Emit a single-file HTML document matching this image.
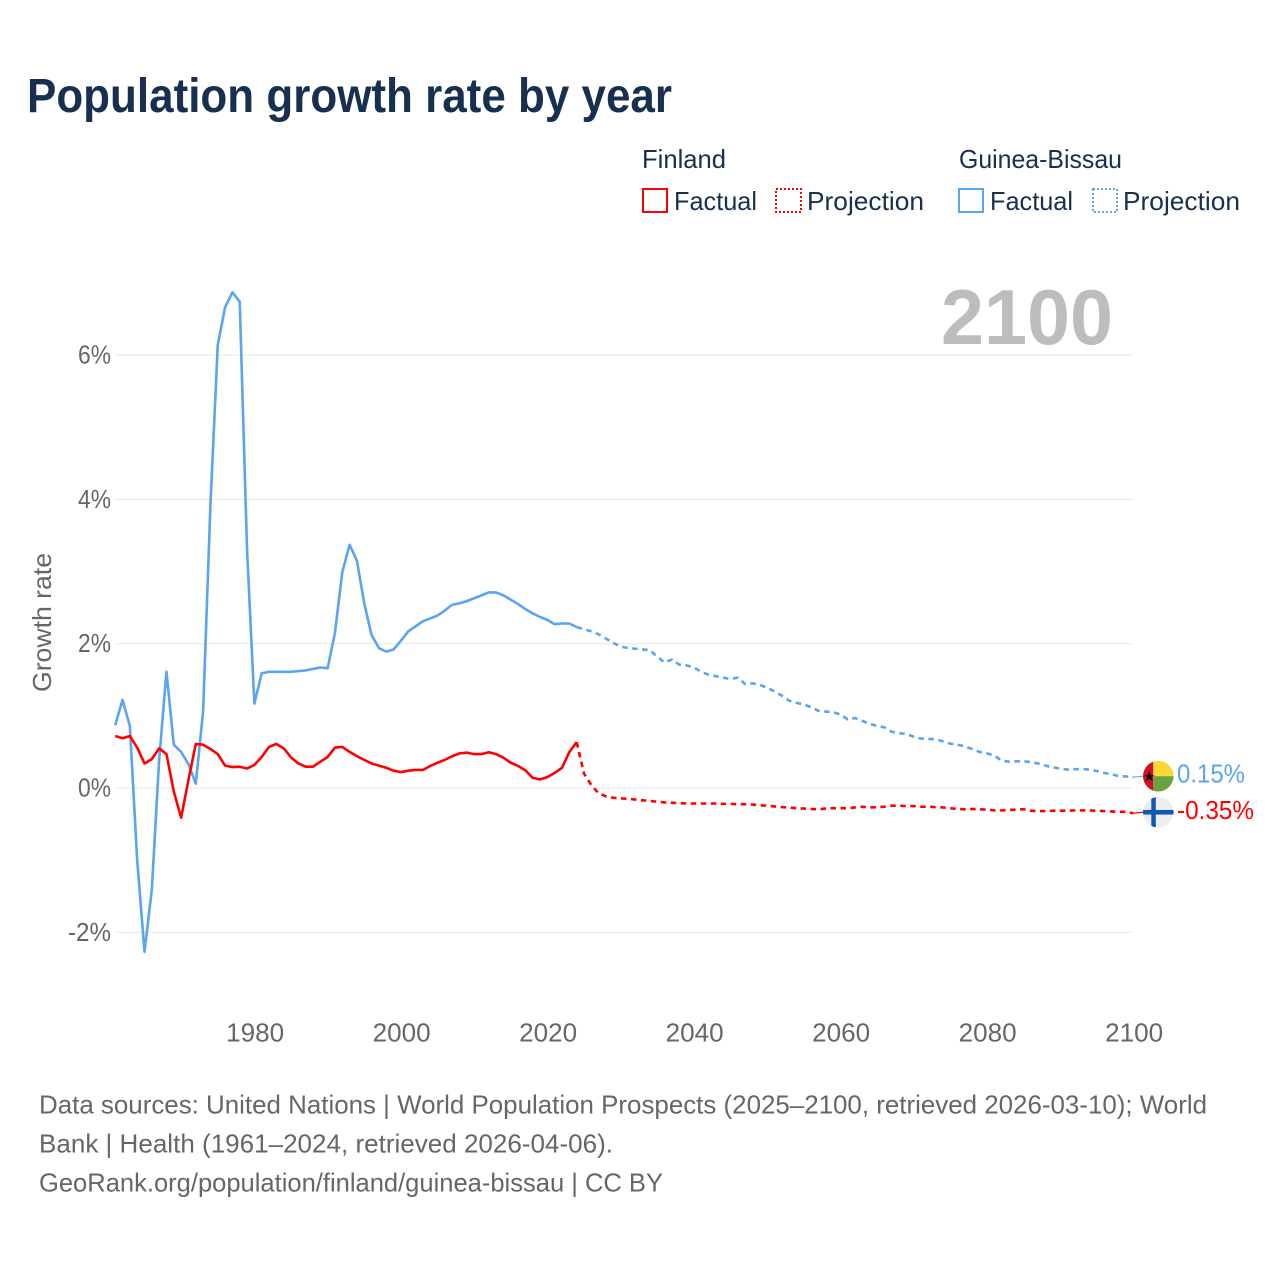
<!DOCTYPE html>
<html lang="en">
<head>
<meta charset="utf-8">
<title>Population growth rate by year</title>
<style>
html,body{margin:0;padding:0;background:#fff;}
svg{display:block;font-family:"Liberation Sans",Arial,sans-serif;}
</style>
</head>
<body>
<svg id="chart" xmlns="http://www.w3.org/2000/svg" width="1280" height="1280" viewBox="0 0 1280 1280">
  <rect x="0" y="0" width="1280" height="1280" fill="#ffffff"/>
  <defs>
    <clipPath id="gw-clip"><circle cx="0" cy="0" r="15.3"/></clipPath>
    <clipPath id="fi-clip"><circle cx="0" cy="0" r="15.3"/></clipPath>
  </defs>

  <text x="27" y="112" font-size="48" font-weight="700" fill="#17304f" textLength="645" lengthAdjust="spacingAndGlyphs">Population growth rate by year</text>

  <g font-size="26" fill="#17304f">
    <text x="642" y="168" textLength="84" lengthAdjust="spacingAndGlyphs">Finland</text>
    <g>
      <rect x="643" y="189" width="24" height="23" fill="none" stroke="#ff0000" stroke-width="2"/>
      <text x="674" y="210" textLength="83" lengthAdjust="spacingAndGlyphs">Factual</text>
    </g>
    <g>
      <rect x="776" y="189" width="25" height="23" fill="none" stroke="#ff0000" stroke-width="2" stroke-dasharray="2 2"/>
      <text x="807" y="210" textLength="117" lengthAdjust="spacingAndGlyphs">Projection</text>
    </g>
    <text x="959" y="168" textLength="163" lengthAdjust="spacingAndGlyphs">Guinea-Bissau</text>
    <g>
      <rect x="959" y="189" width="24" height="23" fill="none" stroke="#5ba4ee" stroke-width="2"/>
      <text x="990" y="210" textLength="83" lengthAdjust="spacingAndGlyphs">Factual</text>
    </g>
    <g>
      <rect x="1093" y="189" width="24" height="23" fill="none" stroke="#5ba4ee" stroke-width="2" stroke-dasharray="2 2"/>
      <text x="1123" y="210" textLength="117" lengthAdjust="spacingAndGlyphs">Projection</text>
    </g>
  </g>

  <g id="grid"></g>
  <g id="y-ticks"></g>
  <g id="x-ticks"></g>

  <text x="941" y="344" font-size="78" font-weight="700" fill="#bdbdbd" textLength="172" lengthAdjust="spacingAndGlyphs">2100</text>

  <text transform="translate(51,692) rotate(-90)" font-size="26" fill="#666666" textLength="139" lengthAdjust="spacingAndGlyphs">Growth rate</text>

  <g id="series"></g>

  <g id="gw-flag">
    <g clip-path="url(#gw-clip)">
      <rect x="-16" y="-16" width="11" height="32" fill="#ce1126"/>
      <rect x="-5" y="-16" width="21" height="16" fill="#fdd835"/>
      <rect x="-5" y="0" width="21" height="16" fill="#6aa33f"/>
    </g>
    <polygon points="-9,-5 -7.6,-1.2 -3.8,-1.2 -6.8,1.1 -5.7,4.8 -9,2.6 -12.3,4.8 -11.2,1.1 -14.2,-1.2 -10.4,-1.2" fill="#111111"/>
  </g>
  <g id="fi-flag">
    <g clip-path="url(#fi-clip)">
      <rect x="-16" y="-16" width="32" height="32" fill="#eeeeee"/>
      <rect x="-7" y="-16" width="4.5" height="32" fill="#0f57b3"/>
      <rect x="-16" y="-2.3" width="32" height="4.6" fill="#0f57b3"/>
    </g>
  </g>
  <text id="gw-label" x="1177" font-size="26" fill="#5ba4ee" textLength="68" lengthAdjust="spacingAndGlyphs"></text>
  <text id="fi-label" x="1177" font-size="26" fill="#ff0000" textLength="77" lengthAdjust="spacingAndGlyphs"></text>

  <g font-size="26" fill="#666666">
    <text x="39" y="1113.5" textLength="1168" lengthAdjust="spacingAndGlyphs">Data sources: United Nations | World Population Prospects (2025–2100, retrieved 2026-03-10); World</text>
    <text x="39" y="1152.5" textLength="574" lengthAdjust="spacingAndGlyphs">Bank | Health (1961–2024, retrieved 2026-04-06).</text>
    <text x="39" y="1191.5" textLength="624" lengthAdjust="spacingAndGlyphs">GeoRank.org/population/finland/guinea-bissau | CC BY</text>
  </g>
</svg>

<script>
const factualYears = [1961,1962,1963,1964,1965,1966,1967,1968,1969,1970,
  1971,1972,1973,1974,1975,1976,1977,1978,1979,1980,
  1981,1982,1983,1984,1985,1986,1987,1988,1989,1990,
  1991,1992,1993,1994,1995,1996,1997,1998,1999,2000,
  2001,2002,2003,2004,2005,2006,2007,2008,2009,2010,
  2011,2012,2013,2014,2015,2016,2017,2018,2019,2020,
  2021,2022,2023,2024];
const projectionYears = [2024,2025,2026,2027,2028,2029,2030,
  2031,2032,2033,2034,2035,2036,2037,2038,2039,2040,
  2041,2042,2043,2044,2045,2046,2047,2048,2049,2050,
  2051,2052,2053,2054,2055,2056,2057,2058,2059,2060,
  2061,2062,2063,2064,2065,2066,2067,2068,2069,2070,
  2071,2072,2073,2074,2075,2076,2077,2078,2079,2080,
  2081,2082,2083,2084,2085,2086,2087,2088,2089,2090,
  2091,2092,2093,2094,2095,2096,2097,2098,2099,2100];

const guineaFactual = [0.87,1.22,0.86,-1.0,-2.27,-1.41,0.39,1.61,0.6,0.5,
  0.33,0.06,1.06,3.92,6.14,6.66,6.87,6.74,3.3,1.17,
  1.59,1.61,1.61,1.61,1.61,1.62,1.63,1.65,1.67,1.66,
  2.15,2.99,3.37,3.15,2.56,2.12,1.94,1.89,1.92,2.04,
  2.17,2.24,2.31,2.35,2.39,2.46,2.54,2.56,2.59,2.63,
  2.67,2.71,2.71,2.67,2.61,2.55,2.48,2.42,2.37,2.33,
  2.27,2.28,2.28,2.23];
const guineaProjection = [2.23,2.20,2.17,2.13,2.07,2.01,1.96,
  1.94,1.93,1.92,1.91,1.82,1.74,1.78,1.71,1.70,1.67,
  1.61,1.57,1.55,1.53,1.51,1.53,1.44,1.45,1.43,1.39,
  1.34,1.28,1.21,1.18,1.16,1.12,1.07,1.06,1.05,1.02,
  0.95,0.97,0.93,0.89,0.86,0.84,0.78,0.76,0.75,0.71,
  0.685,0.68,0.675,0.647,0.615,0.60,0.575,0.54,0.50,0.48,
  0.45,0.38,0.365,0.37,0.37,0.36,0.34,0.31,0.285,0.27,
  0.255,0.26,0.265,0.255,0.235,0.21,0.19,0.165,0.16,0.15];
const finlandFactual = [0.72,0.69,0.72,0.56,0.34,0.40,0.55,0.47,-0.05,-0.41,
  0.11,0.61,0.60,0.54,0.47,0.31,0.29,0.295,0.27,0.32,
  0.43,0.57,0.61,0.55,0.425,0.34,0.295,0.295,0.365,0.43,
  0.56,0.57,0.50,0.44,0.39,0.34,0.31,0.28,0.24,0.22,
  0.24,0.25,0.25,0.305,0.35,0.39,0.44,0.48,0.49,0.47,
  0.47,0.495,0.47,0.42,0.35,0.305,0.245,0.14,0.12,0.15,
  0.21,0.28,0.50,0.635];
const finlandProjection = [0.635,0.20,0.04,-0.075,-0.115,-0.135,-0.145,
  -0.15,-0.16,-0.17,-0.18,-0.19,-0.20,-0.205,-0.21,-0.215,-0.215,
  -0.215,-0.215,-0.215,-0.22,-0.22,-0.225,-0.225,-0.23,-0.24,-0.245,
  -0.255,-0.265,-0.27,-0.28,-0.285,-0.29,-0.295,-0.285,-0.28,-0.28,
  -0.28,-0.27,-0.26,-0.27,-0.265,-0.26,-0.245,-0.245,-0.25,-0.25,
  -0.26,-0.26,-0.265,-0.27,-0.28,-0.29,-0.295,-0.29,-0.295,-0.30,
  -0.31,-0.31,-0.305,-0.30,-0.295,-0.315,-0.32,-0.32,-0.315,-0.315,
  -0.315,-0.31,-0.31,-0.31,-0.315,-0.32,-0.325,-0.33,-0.33,-0.35];

const yTickValues = [-2,0,2,4,6];
const yTickLabels = ["-2%","0%","2%","4%","6%"];
const xTickValues = [1980,2000,2020,2040,2060,2080,2100];
const xTickLabels = ["1980","2000","2020","2040","2060","2080","2100"];
const finalValues = [0.15,-0.35];
const finalLabels = ["0.15%","-0.35%"];

const SVG_NS = "http://www.w3.org/2000/svg";
const BLUE = "#5ba4ee";
const RED = "#ff0000";
function xScale(year){ return 115.2 + (year - 1961) * 7.325; }
function yScale(value){ return 788 - value * 72.15; }
function make(tag, attrs, parent){
  const el = document.createElementNS(SVG_NS, tag);
  for (const k in attrs) el.setAttribute(k, attrs[k]);
  parent.appendChild(el);
  return el;
}
function pathFrom(years, values){
  return years.map(function(y, i){
    return (i ? "L" : "M") + xScale(y).toFixed(2) + " " + yScale(values[i]).toFixed(2);
  }).join(" ");
}

const gridGroup = document.getElementById("grid");
const yTickGroup = document.getElementById("y-ticks");
const xTickGroup = document.getElementById("x-ticks");
const seriesGroup = document.getElementById("series");

yTickValues.forEach(function(v, i){
  const line = make("line", {x1:115, x2:1133, y1:yScale(v), y2:yScale(v), stroke:"#e6e6e6", "stroke-width":1}, gridGroup);
  
  
  const labelText = yTickLabels[i];
  const label = make("text", {x:111, y:yScale(v)+8.5, "text-anchor":"end", "font-size":26, fill:"#666666", textLength:(labelText.length > 2 ? 43 : 33), lengthAdjust:"spacingAndGlyphs"}, yTickGroup);
  
  
  label.textContent = labelText;
});

xTickValues.forEach(function(v, i){
  const label = make("text", {x:xScale(v)+0.8, y:1041.5, "text-anchor":"middle", "font-size":26, fill:"#666666", textLength:58, lengthAdjust:"spacingAndGlyphs"}, xTickGroup);
  
  
  label.textContent = xTickLabels[i];
});

function drawLine(name, years, values, color, dashed){
  const attrs = {d:pathFrom(years, values), fill:"none", stroke:color, "stroke-width":2.6, "stroke-linejoin":"round"};
  if (dashed) attrs["stroke-dasharray"] = "5.5 4.5";
  const p = make("path", attrs, seriesGroup);
  
  
}
drawLine("guinea-bissau-factual-line", factualYears, guineaFactual, BLUE, false);
drawLine("guinea-bissau-projection-line", projectionYears, guineaProjection, BLUE, true);
drawLine("finland-factual-line", factualYears, finlandFactual, RED, false);
drawLine("finland-projection-line", projectionYears, finlandProjection, RED, true);

function placeEnd(flagId, labelId, leaderName, value, text, color, lastSeriesValue){
  const cy = yScale(value) - 1;
  document.getElementById(flagId).setAttribute("transform", "translate(1158.3," + cy + ")");
  const label = document.getElementById(labelId);
  label.setAttribute("y", yScale(value) + 5.5);
  label.textContent = text;
  const leader = make("line", {x1:xScale(2100), x2:1143, y1:yScale(lastSeriesValue), y2:cy, stroke:color, "stroke-width":1.2}, seriesGroup);
  
  
}
placeEnd("gw-flag", "gw-label", "guinea-bissau-leader-line", finalValues[0], finalLabels[0], BLUE, guineaProjection[guineaProjection.length-1]);
placeEnd("fi-flag", "fi-label", "finland-leader-line", finalValues[1], finalLabels[1], RED, finlandProjection[finlandProjection.length-1]);
</script>
</body>
</html>
